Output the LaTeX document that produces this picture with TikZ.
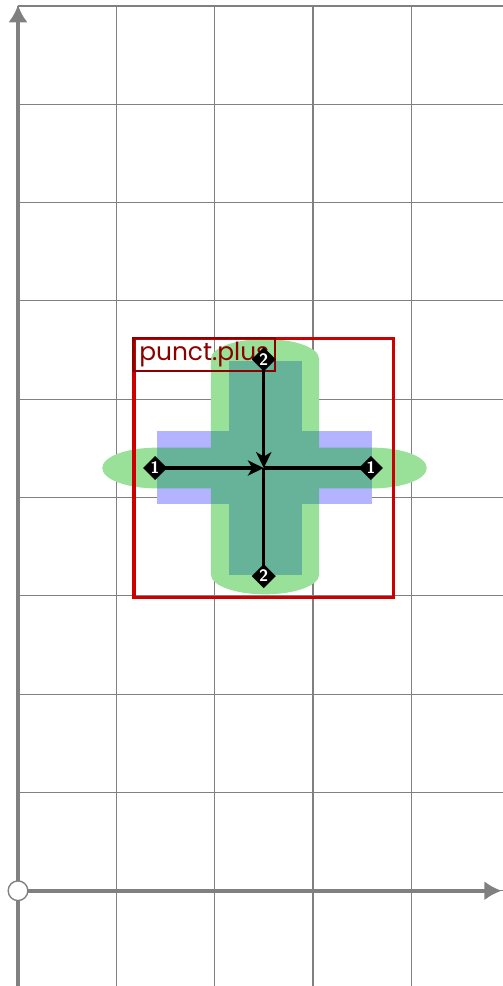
\documentclass[tikz,border=0pt]{standalone}
\usepackage{fontspec}
\newfontfamily\labelfont{Poppins}
\usetikzlibrary{arrows.meta,shapes.geometric}
\definecolor{gridgray}{RGB}{128,128,128}
\definecolor{axisgray}{RGB}{128,128,128}
\definecolor{penGreen}{RGB}{153,224,153}
\definecolor{glyphBlue}{RGB}{179,179,255}
\definecolor{overlapTeal}{RGB}{102,179,153}
\definecolor{boxRed}{RGB}{204,0,0}
\definecolor{labelRed}{RGB}{140,0,0}
\tikzset{
  gridline/.style={draw=gridgray, line width=0.35pt},
  axisline/.style={draw=axisgray, line width=1.2pt, -{Latex[length=5pt,width=5.6pt]}},
  originmark/.style={circle, draw=axisgray, line width=0.4pt, fill=white, minimum size=0.2cm, inner sep=0pt},
  skel/.style={draw=black, line width=0.9pt},
  skelarrow/.style={skel, -{Stealth[length=4.6pt,width=4.4pt,inset=1.3pt]}},
  dia/.style={diamond, fill=black, inner sep=0pt, minimum size=0.25cm, text=white, font=\sffamily\bfseries\fontsize{4.8}{4.8}\selectfont},
  framebox/.style={draw=boxRed, line width=0.9pt, minimum size=2.64cm, inner sep=0pt},
  labelbox/.style={draw=labelRed, line width=0.6pt, anchor=north west, minimum width=1.44cm, minimum height=0.34cm, inner sep=0pt, text=labelRed, font=\labelfont\fontsize{7.2}{8}\selectfont}
}
\begin{document}
\begin{tikzpicture}[x=1cm,y=1cm]
\useasboundingbox (-0.183,-0.969) rectangle (4.924,9.061);
% grid
\draw[gridline] (0,-1) grid (5,9);
% axes
\coordinate (O) at (0,0);
\coordinate (xend) at (4.92,0);
\coordinate (yend) at (0,9.01);
\coordinate (ybot) at (0,-1.1);
\draw[axisline] (O) -- (xend);
\draw[axisline] (ybot) -- (yend);
\node[originmark] (orig) at (O) {};
% green pen strokes
\fill[penGreen] (1.963,3.215) -- (1.963,5.412) arc[start angle=180,end angle=0,x radius=0.55,y radius=0.2] -- (3.063,3.215) arc[start angle=0,end angle=-180,x radius=0.55,y radius=0.2] -- cycle;
\fill[penGreen] (1.407,4.507) -- (3.608,4.507) arc[start angle=90,end angle=-90,x radius=0.55,y radius=0.207] -- (1.407,4.093) arc[start angle=270,end angle=90,x radius=0.55,y radius=0.207] -- cycle;
% blue glyph
\fill[glyphBlue] (2.150,3.212) rectangle (2.886,5.392);
\fill[glyphBlue] (1.417,3.934) rectangle (3.604,4.677);
% overlap
\begin{scope}
\clip (1.963,3.215) -- (1.963,5.412) arc[start angle=180,end angle=0,x radius=0.55,y radius=0.2] -- (3.063,3.215) arc[start angle=0,end angle=-180,x radius=0.55,y radius=0.2] -- cycle;
\fill[overlapTeal] (2.150,3.212) rectangle (2.886,5.392);
\fill[overlapTeal] (1.417,3.934) rectangle (3.604,4.677);
\end{scope}
\begin{scope}
\clip (1.407,4.507) -- (3.608,4.507) arc[start angle=90,end angle=-90,x radius=0.55,y radius=0.207] -- (1.407,4.093) arc[start angle=270,end angle=90,x radius=0.55,y radius=0.207] -- cycle;
\fill[overlapTeal] (2.150,3.212) rectangle (2.886,5.392);
\fill[overlapTeal] (1.417,3.934) rectangle (3.604,4.677);
\end{scope}
% frame and label
\node[framebox] (frame) at (2.5,4.30) {};
\node[labelbox] (lbl) at (frame.north west) {punct.plus};
% skeleton
\coordinate (ctr) at (2.5,4.30);
\coordinate (p1l) at (1.394,4.30);
\coordinate (p1r) at (3.59,4.30);
\coordinate (p2t) at (2.5,5.404);
\coordinate (p2b) at (2.5,3.201);
\draw[skelarrow] (p1l) -- (ctr);
\draw[skel] (ctr) -- (p1r);
\draw[skelarrow] (p2t) -- (ctr);
\draw[skel] (ctr) -- (p2b);
\node[dia] (d1l) at (p1l) {1};
\node[dia] (d1r) at (p1r) {1};
\node[dia] (d2t) at (p2t) {2};
\node[dia] (d2b) at (p2b) {2};
\end{tikzpicture}
\end{document}
